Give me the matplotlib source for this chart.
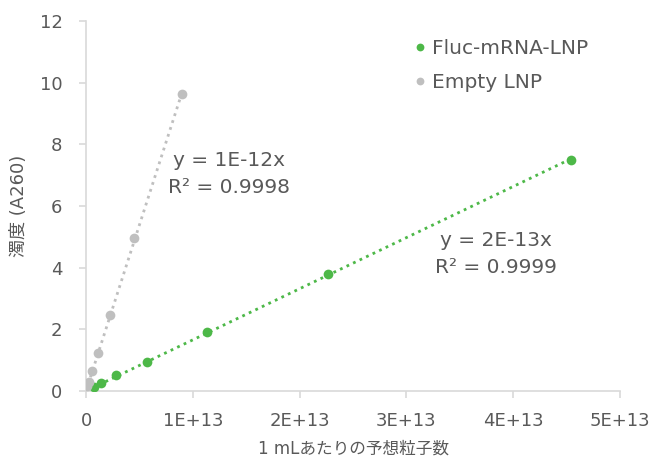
import numpy as np
import matplotlib
matplotlib.use("Agg")
import matplotlib.pyplot as plt

plt.rcParams['font.family'] = ['DejaVu Sans', 'Noto Sans CJK JP']

# Data
fluc_x = [4.54e13, 2.27e13, 1.135e13, 0.5675e13, 0.284e13, 0.142e13, 0.071e13]
fluc_y = [7.50, 3.80, 1.90, 0.95, 0.53, 0.25, 0.12]
empty_x = [0.90e13, 0.45e13, 0.225e13, 0.1125e13, 0.056e13, 0.028e13, 0.014e13]
empty_y = [9.62, 4.95, 2.47, 1.23, 0.65, 0.30, 0.15]
series_names = ["Fluc-mRNA-LNP", "Empty LNP"]
eq_labels = ["y = 2E-13x\nR² = 0.9999", "y = 1E-12x\nR² = 0.9998"]
xticks = [0, 1e13, 2e13, 3e13, 4e13, 5e13]
xtick_labels = ["0", "1E+13", "2E+13", "3E+13", "4E+13", "5E+13"]
yticks = [0, 2, 4, 6, 8, 10, 12]

green = "#4db848"
gray = "#bfbfbf"
txt = "#595959"
axc = "#d9d9d9"

fig = plt.figure(figsize=(6.7, 4.59), dpi=100)
ax = fig.add_axes([86/670, 1-391/459, (620-86)/670, (391-21)/459])

def fit_line(x, y, color):
    x = np.array(x); y = np.array(y)
    k = (x @ y) / (x @ x)
    xs = np.array([0, x.max()])
    ax.plot(xs, k*xs, linestyle=(0, (1, 1.6)), color=color, lw=2.0, zorder=2)

fit_line(empty_x, empty_y, gray)
fit_line(fluc_x, fluc_y, green)
ax.plot(fluc_x, fluc_y, 'o', color=green, ms=7, mec='none', label=series_names[0], zorder=3)
ax.plot(empty_x, empty_y, 'o', color=gray, ms=7, mec='none', label=series_names[1], zorder=3)

ax.set_xlim(0, 5e13)
ax.set_ylim(0, 12)
ax.set_xticks(xticks)
ax.set_xticklabels(xtick_labels)
ax.set_yticks(yticks)
for s in ['top', 'right']:
    ax.spines[s].set_visible(False)
for s in ['left', 'bottom']:
    ax.spines[s].set_color(axc)
    ax.spines[s].set_linewidth(1.2)
ax.tick_params(axis='both', colors=axc, labelcolor=txt, labelsize=13, length=5, width=1.2)
ax.tick_params(axis='x', pad=10)
ax.tick_params(axis='y', pad=12)

ax.set_xlabel("1 mLあたりの予想粒子数", color=txt, fontsize=12, labelpad=7)
ax.set_ylabel("濁度 (A260)", color=txt, fontsize=13, labelpad=8)

ax.text(1.34e13, 7.04, eq_labels[1], color=txt, fontsize=14.5, linespacing=1.5,
        va='center', ha='center', multialignment='center')
ax.text(3.84e13, 4.44, eq_labels[0], color=txt, fontsize=14.5, linespacing=1.5,
        va='center', ha='center', multialignment='center')

leg = ax.legend(loc='upper right', bbox_to_anchor=(0.975, 1.0), frameon=False, fontsize=14.5,
                handlelength=0.5, handletextpad=0.35, labelspacing=0.75, markerscale=0.8)
for t in leg.get_texts():
    t.set_color(txt)

fig.savefig("out.png", dpi=100)
